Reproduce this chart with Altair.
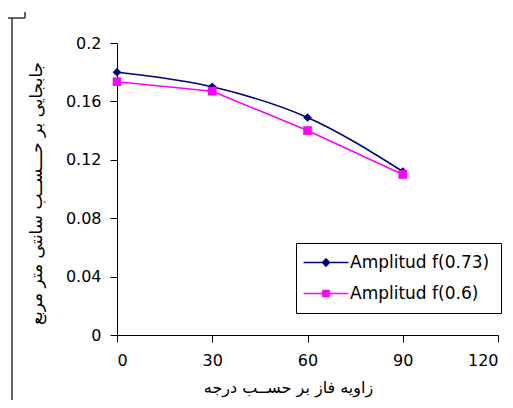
import altair as alt
import pandas as pd

# ---- data ----
angles = [0, 30, 60, 90]
series_names = ["Amplitud f(0.73)", "Amplitud f(0.6)"]
amp_073 = [0.180, 0.170, 0.149, 0.112]
amp_06 = [0.1735, 0.167, 0.140, 0.110]
x_ticks = [0, 30, 60, 90, 120]
y_ticks = [0, 0.04, 0.08, 0.12, 0.16, 0.2]
colors = ["#000080", "#FF00FF"]
x_title = "زاویه فاز بر حســب درجه"
y_title = "جابجایی بر حـــســب سانتی متر مربع"

rows = []
for name, vals in zip(series_names, [amp_073, amp_06]):
    for a, v in zip(angles, vals):
        rows.append({"angle": a, "value": v, "series": name})
df = pd.DataFrame(rows)

FONT = "DejaVu Sans"

x_enc = alt.X(
    "angle:Q",
    scale=alt.Scale(domain=[0, 120], nice=False),
    axis=alt.Axis(
        values=x_ticks, title=x_title, grid=False, tickSize=7, labelPadding=10,
        labelFont=FONT, labelFontSize=16, titleFont=FONT, titleFontSize=16,
        titleFontWeight="normal", titleX=171, titleY=44, titleBaseline="top",
        domainColor="black", tickColor="black", labelColor="black", titleColor="black",
    ),
)
y_enc = alt.Y(
    "value:Q",
    scale=alt.Scale(domain=[0, 0.2], nice=False),
    axis=alt.Axis(
        values=y_ticks, format=".2~f", title=y_title, grid=False, tickSize=7,
        labelPadding=9, labelFont=FONT, labelFontSize=16, titleFont=FONT,
        titleFontSize=17, titleFontWeight="normal", titleX=-72, titleY=150,
        titleAngle=270,
        domainColor="black", tickColor="black", labelColor="black", titleColor="black",
    ),
)


def cscale():
    return alt.Scale(domain=series_names, range=colors)


base = alt.Chart(df)

line1 = base.transform_filter(alt.datum.series == series_names[0]).mark_line(
    interpolate="monotone", strokeWidth=1.6
).encode(x=x_enc, y=y_enc, color=alt.Color("series:N", scale=cscale(), legend=None))

line2 = base.transform_filter(alt.datum.series == series_names[1]).mark_line(
    strokeWidth=1.6
).encode(x="angle:Q", y="value:Q", color=alt.Color("series:N", scale=cscale(), legend=None))

points = base.mark_point(filled=True, opacity=1, size=75).encode(
    x="angle:Q",
    y="value:Q",
    color=alt.Color("series:N", scale=cscale(), legend=None),
    shape=alt.Shape("series:N", scale=alt.Scale(domain=series_names, range=["diamond", "square"]), legend=None),
)

# legend symbols: a line segment with the marker in its middle (unit box = 16 px)
diamond_path = "M-2.8,-0.09H2.8V0.09H-2.8Z M0,-0.6L0.55,0L0,0.6L-0.55,0Z"
square_path = "M-2.8,-0.09H2.8V0.09H-2.8Z M-0.48,-0.48H0.48V0.48H-0.48Z"

legend_props = dict(
    orient="none", legendX=179, legendY=200, title=None,
    strokeColor="black", fillColor="white", padding=11, cornerRadius=0,
    symbolSize=256, symbolStrokeWidth=0, symbolOffset=10.5,
    labelFont=FONT, labelFontSize=17,
    labelColor="black", rowPadding=13, labelOffset=15.5, labelLimit=300,
)

legend_layer = base.transform_filter("false").mark_point(filled=True, opacity=1).encode(
    x="angle:Q",
    y="value:Q",
    color=alt.Color("series:N", scale=cscale(), legend=alt.Legend(**legend_props)),
    shape=alt.Shape("series:N", scale=alt.Scale(domain=series_names, range=[diamond_path, square_path]),
                    legend=alt.Legend(**legend_props)),
)

frame_df = pd.DataFrame({"k": [0]})
frame_v = alt.Chart(frame_df).mark_rule(color="black", strokeWidth=1.2).encode(
    x=alt.value(-105), y=alt.value(-25), y2=alt.value(365))
frame_h = alt.Chart(frame_df).mark_rule(color="black", strokeWidth=1.2).encode(
    x=alt.value(-109), x2=alt.value(-92), y=alt.value(-25))
frame_t = alt.Chart(frame_df).mark_rule(color="black", strokeWidth=1.2).encode(
    x=alt.value(-92), y=alt.value(-31), y2=alt.value(-25))

chart = alt.layer(line1, line2, points, legend_layer, frame_v, frame_h, frame_t).resolve_scale(
    color="independent", shape="independent"
).properties(
    width=381, height=292,
    autosize=alt.AutoSizeParams(type="none"),
    padding={"left": 109, "top": 35, "right": 7, "bottom": 65},
).configure_view(stroke=None)

chart.save("out.html", embed_options={"renderer": "svg", "actions": False})
